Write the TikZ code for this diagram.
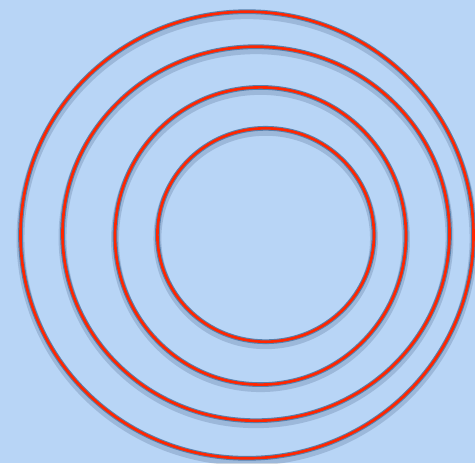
\documentclass[tikz,border=0pt]{standalone}
\usepackage{tikz}
\usetikzlibrary{calc}

\definecolor{bgblue}{RGB}{184,213,246}
\definecolor{ringred}{RGB}{255,38,0}
\definecolor{ringedge}{RGB}{88,128,172}
\definecolor{shade}{RGB}{60,85,120}

\begin{document}
\begin{tikzpicture}[
		x=0.02cm, y=-0.02cm,
		shadowline/.style={draw=shade, line width=4.5pt, opacity=0.22},
		edgeline/.style={draw=ringedge, line width=2.7pt},
		redline/.style={draw=ringred, line width=1.5pt}
		]

		% background
		\fill[bgblue] (0,0) rectangle (475,463);
		\useasboundingbox (0,0) rectangle (475,463);

		% rings: cx/cy/rx/ry
		\foreach \cx/\cy/\rx/\ry in {247/235/226.5/223.3, 256/233.7/193.5/187, 260.5/236/145.5/148.6, 265.7/235/108.3/106.7}{
			\draw[shadowline] (\cx,\cy+3.5) ellipse [x radius=\rx, y radius=\ry];
			\draw[edgeline] (\cx,\cy) ellipse [x radius=\rx, y radius=\ry];
			\draw[redline] (\cx,\cy) ellipse [x radius=\rx, y radius=\ry];
		}
	\end{tikzpicture}
\end{document}
